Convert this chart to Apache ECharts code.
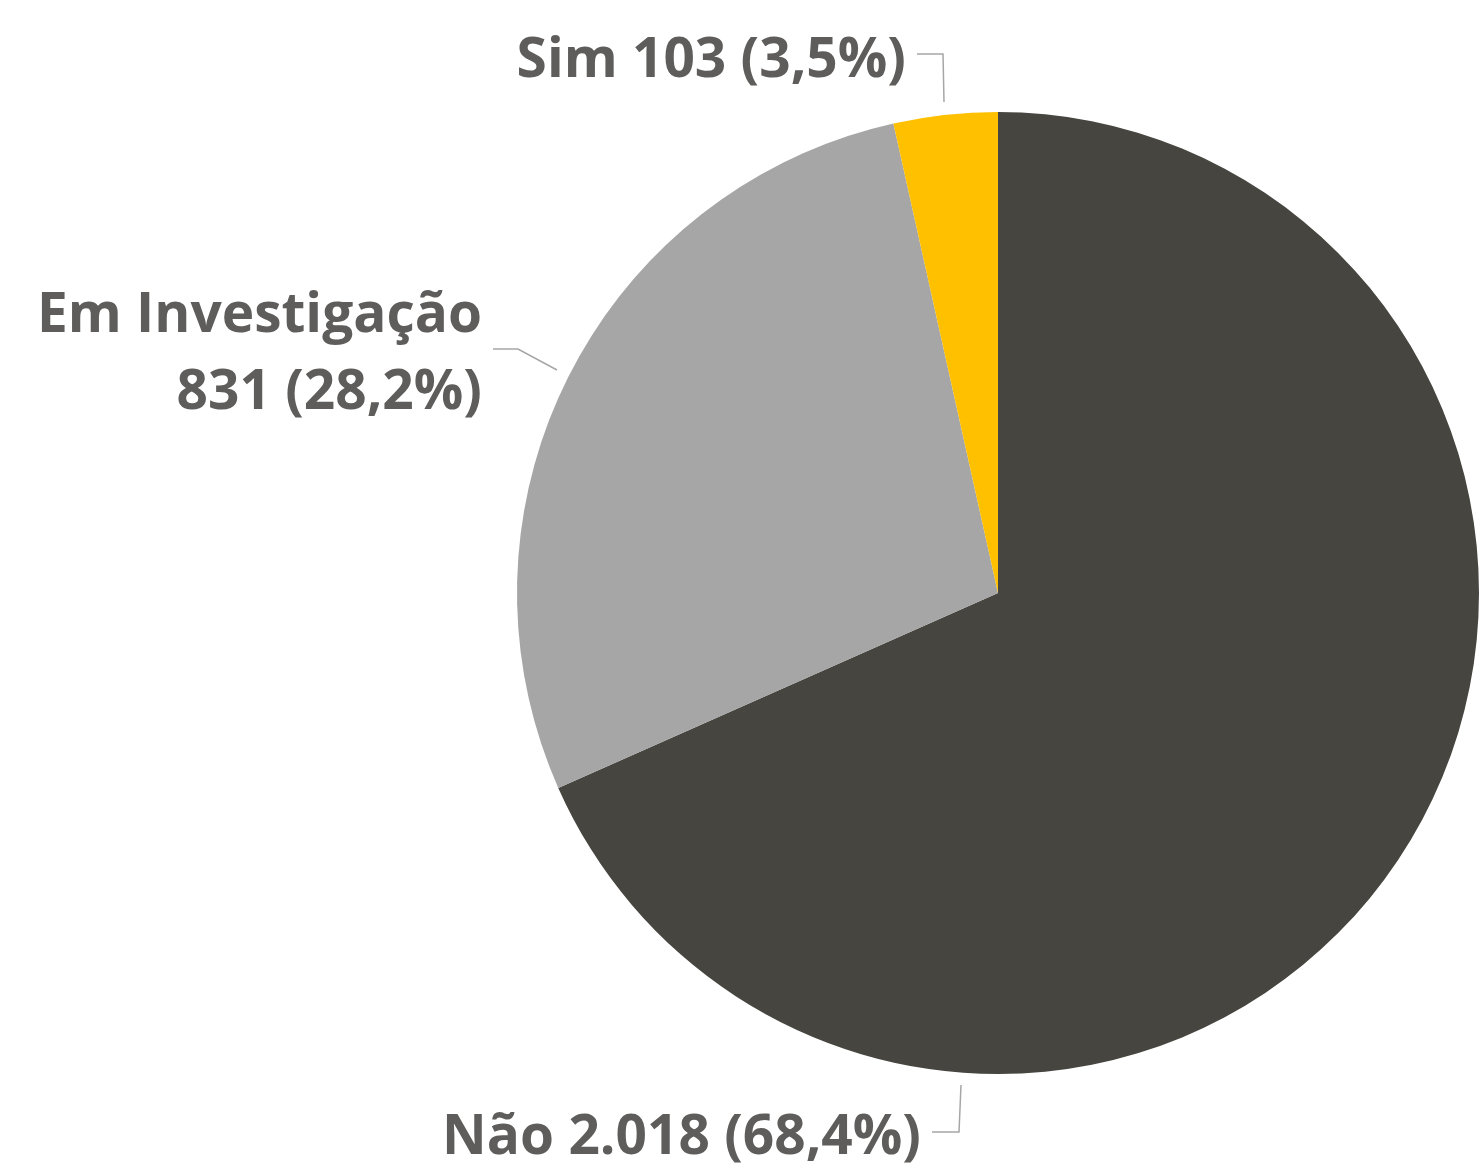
<!DOCTYPE html>
<html><head><meta charset="utf-8">
<script src="https://cdn.jsdelivr.net/npm/echarts@6/dist/echarts.min.js"></script>
<style>html,body{margin:0;padding:0;background:#fff}#c{width:1480px;height:1170px}</style>
</head><body><div id="c"></div>
<script>
const categories = ['Não', 'Em Investigação', 'Sim'];
const values = [2018, 831, 103];
const colors = ['#46453F', '#A6A6A6', '#FFC000'];

// label placement (layout constants, not data)
const labelPos = [
  {x: 921, y: 1138, line: [[961, 1085], [959, 1132], [932, 1132]]},
  {x: 482, y: 355, line: [[557, 370], [518, 349], [493, 349]]},
  {x: 906, y: 61, line: [[944, 102], [943, 54], [917, 54]]}
];

const total = values.reduce((a, b) => a + b, 0);
function fmtNum(v){ return String(v).replace(/\B(?=(\d{3})+(?!\d))/g, '.'); }

const chart = echarts.init(document.getElementById('c'));
chart.setOption({
  animation: false,
  series: [{
    type: 'pie',
    center: [998, 593],
    radius: 481,
    startAngle: 90,
    clockwise: true,
    avoidLabelOverlap: false,
    data: categories.map((n, i) => ({name: n, value: values[i], itemStyle: {color: colors[i]}})),
    label: {
      show: true,
      position: 'outside',
      formatter: p => {
        const pct = (p.value / total * 100).toFixed(1).replace('.', ',') + '%';
        const sep = p.name === 'Em Investigação' ? '\n' : ' ';
        return p.name + sep + fmtNum(p.value) + ' (' + pct + ')';
      },
      fontFamily: 'Open Sans',
      fontWeight: 'bold',
      fontSize: 55,
      lineHeight: 77,
      color: '#5E5D5B',
      align: 'right',
      overflow: 'none'
    },
    labelLine: { show: true, lineStyle: { color: '#A6A6A6', width: 1.5 } },
    labelLayout: params => {
      const lp = labelPos[params.dataIndex];
      return { x: lp.x, y: lp.y, align: 'right', verticalAlign: 'middle', labelLinePoints: lp.line };
    }
  }]
});
</script></body></html>
